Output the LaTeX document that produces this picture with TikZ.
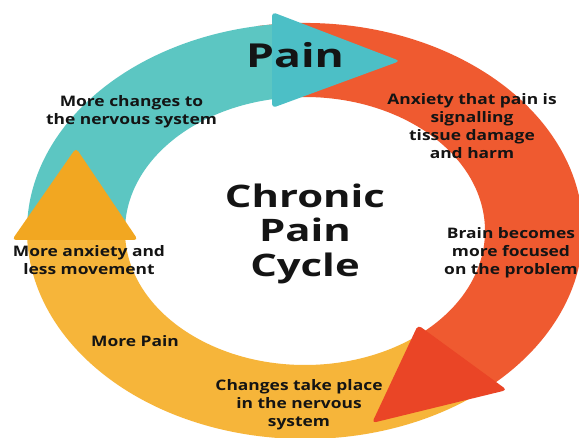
\documentclass[tikz,border=0pt]{standalone}
\usepackage{fontspec}
\setmainfont{Open Sans}[FakeStretch=1.2]
\newfontfamily\bigfont{Open Sans}[FakeStretch=1.35]
\usepackage{tikz}
\usetikzlibrary{positioning}
\definecolor{tealc}{HTML}{5CC6C2}
\definecolor{tealh}{HTML}{4CBFC6}
\definecolor{redc}{HTML}{EF5A30}
\definecolor{redh}{HTML}{EA4526}
\definecolor{yelc}{HTML}{F6B53A}
\definecolor{yelh}{HTML}{F2A721}
\definecolor{inkc}{HTML}{141414}
\tikzset{
  head/.style={rounded corners=4pt},
  lbl/.style={font=\bfseries\fontsize{14.5}{18}\selectfont,text=inkc,align=center,inner sep=0pt,anchor=base},
  big/.style={font=\bigfont\bfseries\fontsize{31}{35}\selectfont,text=inkc,align=center,inner sep=0pt,anchor=base}
}
% one coloured stretch of the ring, between two angles
\newcommand{\ringband}[3]{\fill[#3] (#1:278 and 208) arc[start angle=#1,end angle=#2,x radius=278,y radius=208]
  -- (#2:180 and 134) arc[start angle=#2,end angle=#1,x radius=180,y radius=134] -- cycle;}

\begin{document}
\begin{tikzpicture}[x=1pt,y=1pt]
\useasboundingbox (0,0) rectangle (579,437);
\clip (0,0) rectangle (579,437);
\fill[white] (0,0) rectangle (579,437);
\begin{scope}[shift={(305,206)}]
\ringband{100}{-50}{redc}
\ringband{182}{95}{tealc}
\ringband{-51}{-178}{yelc}
\end{scope}
% arrow heads
\fill[tealh,head] (272,425) -- (400,376) -- (272,329) -- cycle;
\fill[redh,head] (418,112) -- (507,47) -- (372,14) -- cycle;
\fill[yelh,head] (12,197) -- (76,289) -- (138,197) -- cycle;
% labels (base = last line)
\node[big,font=\bigfont\bfseries\fontsize{33}{35}\selectfont] (pain) at (295,369) {Pain};
\node[big] (cycle) at (305,160) {Chronic\\Pain\\Cycle};
\node[lbl] (nerv) at (131.5,312.5) {More changes to\\the nervous system};
\node[lbl] (anx) at (472,278) {Anxiety that pain is\\signalling\\tissue damage\\and harm};
\node[lbl] (focus) at (511,162) {Brain becomes\\more focused\\on the problem};
\node[lbl] (move) at (89,162) {More anxiety and\\less movement};
\node[lbl] (more) at (135,90) {More Pain};
\node[lbl] (change) at (299,10.3) {Changes take place\\in the nervous\\system};
\end{tikzpicture}
\end{document}
